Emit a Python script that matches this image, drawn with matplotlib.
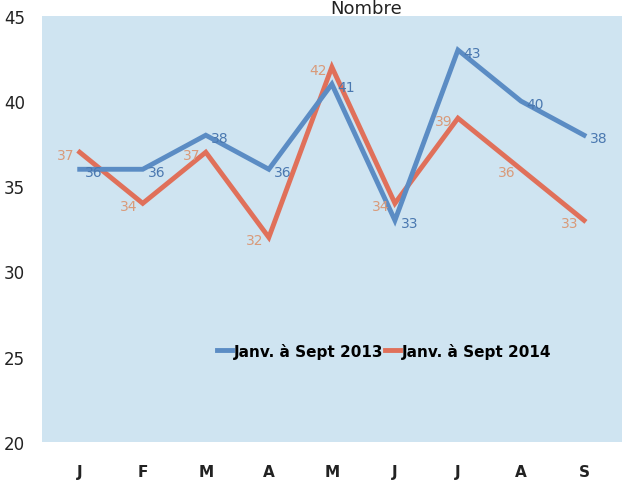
import matplotlib.pyplot as plt

months = ["J", "F", "M", "A", "M", "J", "J", "A", "S"]
serie_2013 = [36, 36, 38, 36, 41, 33, 43, 40, 38]
serie_2014 = [37, 34, 37, 32, 42, 34, 39, 36, 33]
label_2013 = "Janv. à Sept 2013"
label_2014 = "Janv. à Sept 2014"

blue = "#5b8cc4"
red = "#e0705a"

fig = plt.figure(figsize=(6.25, 4.85), dpi=100, facecolor="white")
ax = fig.add_axes([0.067, 0.087, 0.928, 0.878])
ax.set_facecolor("#cfe4f1")

x = range(len(months))
ax.plot(x, serie_2013, color=blue, linewidth=3.5, label=label_2013,
        solid_joinstyle="miter", zorder=3)
ax.plot(x, serie_2014, color=red, linewidth=3.5, label=label_2014,
        solid_joinstyle="miter", zorder=2)

# labels: 2013 to the right, 2014 to the left
for i, v in enumerate(serie_2013):
    ax.annotate(str(v), (i, v), xytext=(4, -2), textcoords="offset points",
                ha="left", va="center", color="#4a78b0", fontsize=10)
for i, v in enumerate(serie_2014):
    ax.annotate(str(v), (i, v), xytext=(-4, -2), textcoords="offset points",
                ha="right", va="center", color="#d99a7a", fontsize=10)

ax.set_xlim(-0.6, len(months) - 0.4)
ax.set_ylim(20, 45)
ax.set_yticks([20, 25, 30, 35, 40, 45])
ax.set_xticks(list(x))
ax.set_xticklabels(months, fontweight="bold", fontsize=11, color="#222222")
for lbl in ax.get_yticklabels():
    lbl.set_fontsize(12)
    lbl.set_color("#222222")
ax.tick_params(length=0)
ax.tick_params(axis="x", pad=16)
ax.tick_params(axis="y", pad=12)
for s in ax.spines.values():
    s.set_visible(False)

ax.legend(loc="center", bbox_to_anchor=(0.59, 0.214), ncol=2, frameon=False,
          handlelength=1.0, handletextpad=0.1, columnspacing=0.1,
          prop={"weight": "bold", "size": 11})

fig.text(0.585, 0.982, "Nombre", ha="center", va="center", fontsize=13,
         color="#222222")

fig.savefig("out.png", dpi=100)
